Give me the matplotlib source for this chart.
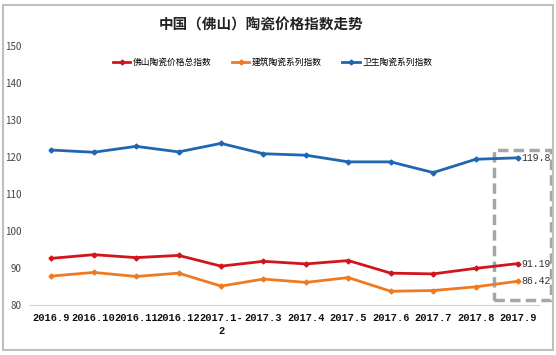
import matplotlib
matplotlib.use("Agg")
from matplotlib import pyplot as plt
from matplotlib.patches import Rectangle

plt.rcParams['font.family'] = ['Noto Sans CJK SC', 'DejaVu Sans']

# data
months = ['2016.9', '2016.10', '2016.11', '2016.12', '2017.1-2', '2017.3',
          '2017.4', '2017.5', '2017.6', '2017.7', '2017.8', '2017.9']
foshan_total = [92.6, 93.6, 92.8, 93.4, 90.5, 91.8, 91.1, 92.0, 88.6, 88.4, 89.9, 91.19]
building = [87.8, 88.8, 87.7, 88.6, 85.1, 87.0, 86.1, 87.4, 83.7, 83.9, 84.9, 86.42]
sanitary = [121.9, 121.3, 122.9, 121.4, 123.7, 120.9, 120.5, 118.7, 118.7, 115.8, 119.4, 119.8]
series_names = ['佛山陶瓷价格总指数', '建筑陶瓷系列指数', '卫生陶瓷系列指数']
yticks = [80, 90, 100, 110, 120, 130, 140, 150]

colors = ['#d0161c', '#ee7b22', '#1f66b3']

fig = plt.figure(figsize=(5.56, 3.55), dpi=100)
ax = fig.add_axes([0.054, 0.141, 0.916, 0.729])

x = list(range(len(months)))
for vals, name, c in zip([foshan_total, building, sanitary], series_names, colors):
    ax.plot(x, vals, color=c, lw=2, marker='D', ms=2.5, label=name)
    ax.text(x[-1] + 0.08, vals[-1], f'{vals[-1]:g}', fontsize=7,
            family='Liberation Mono', va='center', ha='left', color='#333333')

ax.set_xlim(-0.5, len(months) - 0.5)
ax.set_ylim(80, 150)
ax.set_yticks(yticks)
ax.tick_params(axis='y', length=0, labelsize=7, labelcolor='#444444', pad=6)

# long labels wrap onto a second line like in the original
shown = [m if len(m) < 8 else m[:7] + '\n' + m[7:] for m in months]
ax.set_xticks(x)
ax.set_xticklabels(shown, fontsize=7.5, family='Liberation Mono', fontweight='bold',
                   va='top', linespacing=1.4, color='#111111')
ax.tick_params(axis='x', length=0, pad=6)

for s in ['top', 'right', 'left']:
    ax.spines[s].set_visible(False)
ax.spines['bottom'].set_color('#d0d0d0')

# highlight box around latest month
ax.add_patch(Rectangle((x[-1] - 0.57, 81.4), 1.35, 40.5, fill=False, ec='#a6a6a6',
                       lw=2.5, ls=(0, (3, 1.5)), clip_on=False))

ax.legend(loc='center', bbox_to_anchor=(0.476, 0.938), ncol=3, frameon=False,
          fontsize=6.3, handlelength=2.0, columnspacing=2.3, handletextpad=0.3)

fig.text(0.47, 0.93, '中国（佛山）陶瓷价格指数走势', ha='center', va='center',
         fontsize=10.5, fontweight='bold', color='#222222')

fig.patches.append(Rectangle((0.006, 0.014), 0.988, 0.972, transform=fig.transFigure,
                             fill=False, ec='#bfbfbf', lw=1.5))

fig.savefig('out.png', dpi=100)
